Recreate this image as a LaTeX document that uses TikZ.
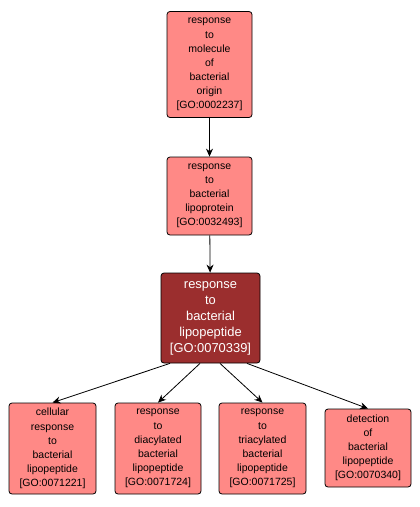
\documentclass[tikz,border=0pt]{standalone}
\usepackage{fontspec}
\setmainfont{Liberation Sans}
\usetikzlibrary{arrows.meta}
\definecolor{termfill}{RGB}{255,137,134}
\definecolor{mainfill}{RGB}{155,46,46}
\tikzset{
  term/.style={draw=black, line width=0.8pt, fill=termfill, rounded corners=3pt, inner sep=0pt, align=center,
    font=\fontsize{10.5}{14.1}\selectfont, text=black},
  mainterm/.style={term, fill=mainfill, text=white, font=\fontsize{12.9}{16}\selectfont},
  edge/.style={draw=black, line width=0.8pt, -{Stealth[length=8pt,width=7pt]}}
}
\begin{document}
\begin{tikzpicture}[x=1pt,y=-1pt]
\useasboundingbox (0,0) rectangle (420,507);
\node[term, minimum width=85pt, minimum height=106pt] (n1) at (209.5,64.5) {response\\to\\molecule\\of\\bacterial\\origin\\{[}GO:0002237{]}};
\node[term, minimum width=85pt, minimum height=78pt] (n2) at (209.5,196) {response\\to\\bacterial\\lipoprotein\\{[}GO:0032493{]}};
\node[mainterm, minimum width=99pt, minimum height=90pt] (n3) at (210.5,318) {response\\to\\bacterial\\lipopeptide\\{[}GO:0070339{]}};
\node[term, minimum width=87pt, minimum height=91pt] (a) at (52.5,448.5) {cellular\\response\\to\\bacterial\\lipopeptide\\{[}GO:0071221{]}};
\node[term, minimum width=86pt, minimum height=91pt] (b) at (158,448.5) {response\\to\\diacylated\\bacterial\\lipopeptide\\{[}GO:0071724{]}};
\node[term, minimum width=87pt, minimum height=91pt] (c) at (262.5,448.5) {response\\to\\triacylated\\bacterial\\lipopeptide\\{[}GO:0071725{]}};
\node[term, minimum width=86pt, minimum height=78pt] (d) at (368,448) {detection\\of\\bacterial\\lipopeptide\\{[}GO:0070340{]}};
\draw[edge] (n1) -- (n2);
\draw[edge] (n2) -- (n3);
\draw[edge] ([xshift=-40.5pt]n3.south) -- (a.north);
\draw[edge] ([xshift=-10.5pt]n3.south) -- (b.north);
\draw[edge] ([xshift=9.5pt]n3.south) -- (c.north);
\draw[edge] ([xshift=36.5pt]n3.south) -- (d.north);
\end{tikzpicture}
\end{document}
